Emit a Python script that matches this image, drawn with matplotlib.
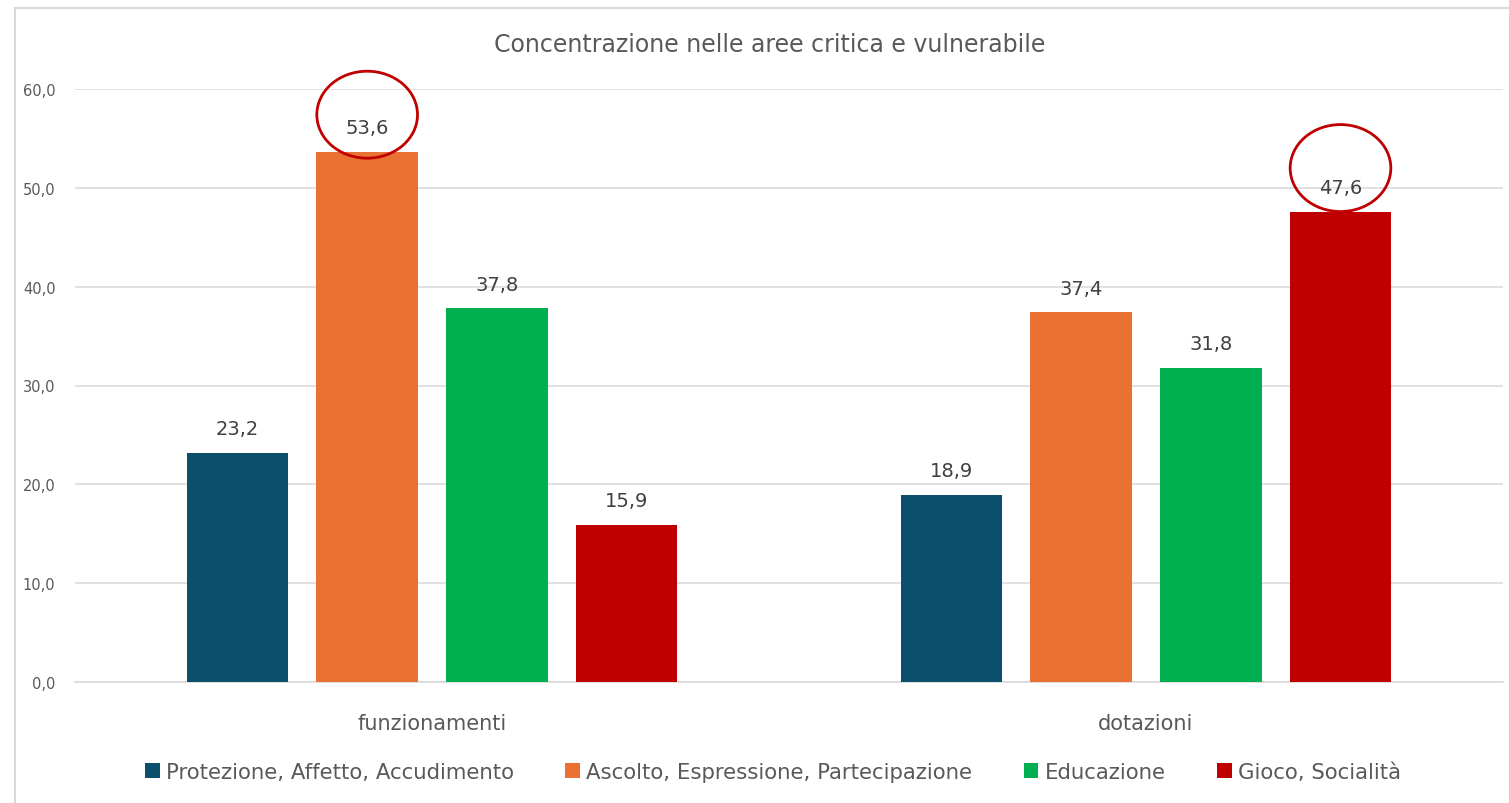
import numpy as np
import matplotlib.pyplot as plt
from matplotlib.patches import Ellipse, Rectangle

categories = ['funzionamenti', 'dotazioni']
series = ['Protezione, Affetto, Accudimento', 'Ascolto, Espressione, Partecipazione',
          'Educazione', 'Gioco, Socialità']
values = [[23.2, 18.9],
          [53.6, 37.4],
          [37.8, 31.8],
          [15.9, 47.6]]
colors = ['#0b4f6c', '#e97132', '#00b050', '#c00000']
highlight = [(1, 0, 3.8), (3, 1, 4.4)]  # (series, category, circle lift) circled

grey = '#595959'
fig = plt.figure(figsize=(15.09, 8.04), dpi=100)
fig.patches.append(Rectangle((15 / 1509, -0.1), 1.2, 1 - 9 / 804 + 0.1, transform=fig.transFigure,
                             fill=False, edgecolor='#d9d9d9', linewidth=1.5))
ax = fig.add_axes([75 / 1509, 121 / 804, 1428 / 1509, 593 / 804])

x = np.arange(len(categories))
w = 0.142
step = 0.1816
for i, (s, v) in enumerate(zip(series, values)):
    pos = x + (i - 1.5) * step
    ax.bar(pos, v, w, color=colors[i], label=s, zorder=3)
    for xx, vv in zip(pos, v):
        ax.text(xx, vv + 1.5, f'{vv:.1f}'.replace('.', ','), ha='center', va='bottom',
                fontsize=14, color='#404040', zorder=4)

for si, ci, lift in highlight:
    xx = x[ci] + (si - 1.5) * step
    vv = values[si][ci]
    ax.add_patch(Ellipse((xx, vv + lift), 0.141, 8.8, fill=False, edgecolor='#c00000',
                         linewidth=2, clip_on=False, zorder=5))

ax.set_xlim(-0.5, 1.5)
ax.set_ylim(0, 60)
ax.set_yticks(np.arange(0, 61, 10))
ax.set_yticklabels([f'{t:.1f}'.replace('.', ',') for t in np.arange(0, 61, 10)],
                   fontsize=10.5, color=grey)
ax.set_xticks(x)
ax.set_xticklabels(categories, fontsize=15, color=grey)
ax.tick_params(axis='both', length=0)
ax.tick_params(axis='y', pad=14)
ax.tick_params(axis='x', pad=22)
ax.grid(axis='y', color='#dcdcdc', linewidth=1.2, zorder=0)
for sp in ['top', 'right', 'left']:
    ax.spines[sp].set_visible(False)
ax.spines['bottom'].set_color('#d9d9d9')
ax.spines['bottom'].set_linewidth(1.2)

fig.text(770 / 1509, 1 - 45 / 804, 'Concentrazione nelle aree critica e vulnerabile',
         ha='center', va='center', fontsize=17, color=grey)

leg = fig.legend(loc='center', bbox_to_anchor=(773 / 1509, 1 - 773 / 804), ncol=4,
                 frameon=False, handlelength=0.7, handleheight=0.7, handletextpad=0.3,
                 columnspacing=2.4, prop={'size': 15.3})
for t in leg.get_texts():
    t.set_color(grey)

fig.savefig('out.png', dpi=100)
